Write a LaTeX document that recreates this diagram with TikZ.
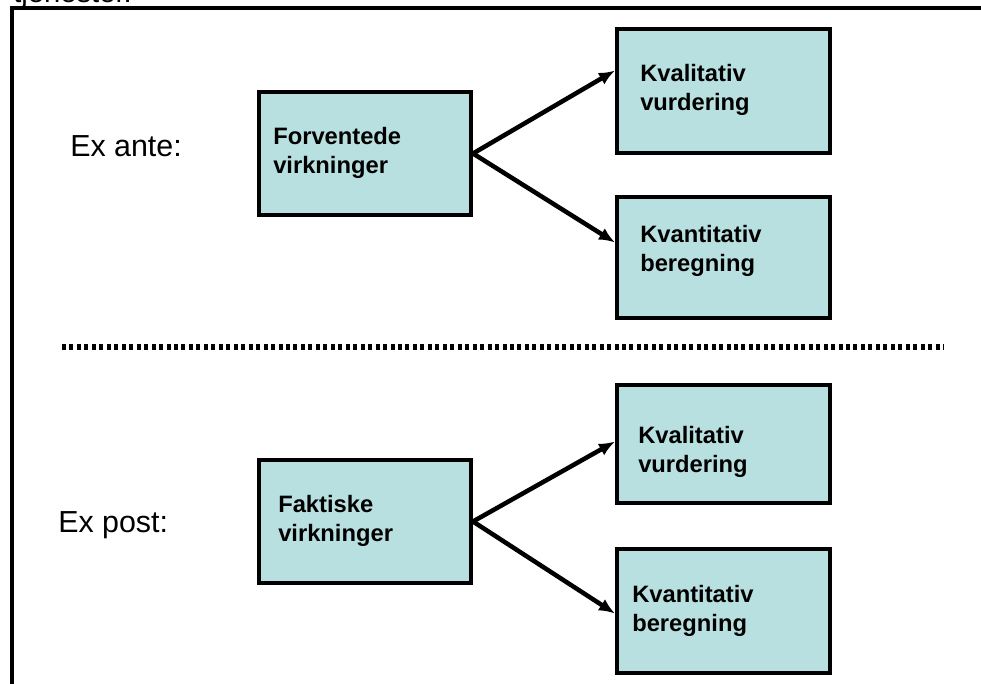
\documentclass[tikz,border=0pt]{standalone}
\usepackage{fontspec}
\setmainfont{Liberation Sans}
\usetikzlibrary{arrows.meta,calc}
\definecolor{boxfill}{RGB}{184,224,224}
\begin{document}
\begin{tikzpicture}[x=0.75pt,y=-0.75pt,
  stage/.style 2 args={draw=black, line width=3pt, fill=boxfill, inner sep=0pt,
    anchor=north west, minimum width=#1*0.75pt, minimum height=#2*0.75pt},
  boxtext/.style={anchor=west, align=left, inner sep=0pt,
    font=\fontsize{17.8}{21.8}\selectfont\bfseries},
  phase/.style={anchor=west, inner sep=0pt, font=\fontsize{22.8}{27}\selectfont},
  flow/.style={line width=3.4pt, -{Latex[length=12pt,width=10pt]}},
  frameline/.style={line width=2.4pt},
  separator/.style={line width=4pt, dash pattern=on 3pt off 2.6pt}
]
\useasboundingbox (0,0) rectangle (981,684);

% heading cut off by the top edge
\begin{scope}
  \clip (0,0) rectangle (981,684);
  \node[anchor=base west, inner sep=0pt, font=\fontsize{21.9}{26}\selectfont] (head) at (13,3) {tjenester.};
\end{scope}

% frame
\coordinate (fa) at (12,684);
\coordinate (fb) at (12,8);
\coordinate (fc) at (981,8);
\draw[frameline] (fa) -- (fb) -- (fc);

% ex ante
\node[phase] (ante) at (70,146) {Ex ante:};
\node[stage={212}{123}] (fv) at (257,90) {};
\node[stage={213}{124}] (kv1) at (615,27) {};
\node[stage={213}{121}] (kn1) at (615,195) {};
\node[boxtext] (fvt) at (273,153) {Forventede\\virkninger};
\node[boxtext] (kv1t) at (640,90) {Kvalitativ\\vurdering};
\node[boxtext] (kn1t) at (640,251) {Kvantitativ\\beregning};
\draw[flow] (fv.east) -- ($(kv1.north west)!0.34!(kv1.south west)$);
\draw[flow] (fv.east) -- ($(kn1.north west)!0.38!(kn1.south west)$);

% separator
\coordinate (sa) at (62,347);
\coordinate (sb) at (944,347);
\draw[separator] (sa) -- (sb);

% ex post
\node[phase] (post) at (58,525) {Ex post:};
\node[stage={212}{123}] (fk) at (257,458) {};
\node[stage={213}{118}] (kv2) at (615,383) {};
\node[stage={213}{124}] (kn2) at (615,547) {};
\node[boxtext] (fkt) at (278,521) {Faktiske\\virkninger};
\node[boxtext] (kv2t) at (638,452) {Kvalitativ\\vurdering};
\node[boxtext] (kn2t) at (632,611) {Kvantitativ\\beregning};
\draw[flow] (fk.east) -- ($(kv2.north west)!0.48!(kv2.south west)$);
\draw[flow] (fk.east) -- ($(kn2.north west)!0.52!(kn2.south west)$);
\end{tikzpicture}
\end{document}
